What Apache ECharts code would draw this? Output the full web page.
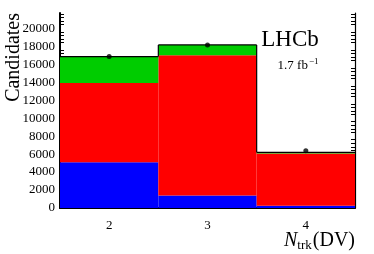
<!DOCTYPE html>
<html><head><meta charset="utf-8">
<script src="https://cdn.jsdelivr.net/npm/echarts@6/dist/echarts.min.js"></script>
<style>html,body{margin:0;padding:0;background:#fff}#c{width:374px;height:254px}</style>
</head><body><div id="c"></div>
<script>
var categories = ['2', '3', '4'];
var blueVals = [5100, 1400, 250];
var redVals = [8800, 15600, 5820];
var greenVals = [2950, 1150, 130];
var dataVals = [16850, 18150, 6370];
var yTicks = [0, 2000, 4000, 6000, 8000, 10000, 12000, 14000, 16000, 18000, 20000];

var totals = categories.map(function (c, i) { return blueVals[i] + redVals[i] + greenVals[i]; });
var outline = categories.map(function (c, i) { return [i, totals[i], i > 0 ? totals[i - 1] : null]; });

var F = 'Liberation Serif, Times New Roman, serif';
var chart = echarts.init(document.getElementById('c'));
var yMax = 21700;
chart.setOption({
  animation: false,
  grid: { left: 60, right: 19, top: 13, bottom: 46 },
  xAxis: [{
    type: 'category', data: categories, position: 'bottom',
    axisLine: { lineStyle: { color: '#000', width: 2 } },
    axisTick: { inside: true, length: 7, lineStyle: { color: '#000', width: 1.5 } },
    axisLabel: { color: '#000', fontFamily: F, fontSize: 13, margin: 11 },
    splitLine: { show: false }
  }, {
    type: 'category', data: categories, position: 'top',
    axisLine: { lineStyle: { color: '#000', width: 1.2 } },
    axisTick: { inside: true, length: 7, lineStyle: { color: '#000', width: 1.2 } },
    axisLabel: { show: false }, splitLine: { show: false }
  }],
  yAxis: [{
    type: 'value', min: 0, max: yMax, interval: 2000, position: 'left',
    axisLine: { show: true, lineStyle: { color: '#000', width: 2 } },
    axisTick: { inside: true, length: 8, lineStyle: { color: '#000', width: 1.2 } },
    minorTick: { show: true, splitNumber: 5, length: 4, lineStyle: { color: '#000', width: 1 } },
    axisLabel: { color: '#000', fontFamily: F, fontSize: 13, margin: 5, showMaxLabel: false,
      formatter: function (v) { return yTicks.indexOf(v) >= 0 ? String(v) : ''; } },
    splitLine: { show: false }
  }, {
    type: 'value', min: 0, max: yMax, interval: 2000, position: 'right',
    axisLine: { show: true, lineStyle: { color: '#000', width: 1.2 } },
    axisTick: { inside: true, length: 8, lineStyle: { color: '#000', width: 1.2 } },
    minorTick: { show: true, splitNumber: 5, length: 4, lineStyle: { color: '#000', width: 1 } },
    axisLabel: { show: false }, splitLine: { show: false }
  }],
  series: [
    { type: 'bar', stack: 's', data: blueVals, barCategoryGap: '0%', itemStyle: { color: '#0000ff' }, z: 1 },
    { type: 'bar', stack: 's', data: redVals, barCategoryGap: '0%', itemStyle: { color: '#ff0000' }, z: 1 },
    { type: 'bar', stack: 's', data: greenVals, barCategoryGap: '0%', itemStyle: { color: '#00cc00' }, z: 1 },
    { type: 'custom', data: outline, z: 3,
      renderItem: function (params, api) {
        var c = api.coord([api.value(0), api.value(1)]);
        var w = api.size([1, 0])[0];
        var x0 = c[0] - w / 2, x1 = c[0] + w / 2;
        var children = [{ type: 'line', shape: { x1: x0, y1: c[1], x2: x1, y2: c[1] }, style: { stroke: '#000', lineWidth: 1.2 } }];
        var prev = api.value(2);
        if (prev !== null && !isNaN(prev)) {
          var p = api.coord([api.value(0), prev]);
          children.push({ type: 'line', shape: { x1: x0, y1: p[1], x2: x0, y2: c[1] }, style: { stroke: '#000', lineWidth: 1.2 } });
        }
        return { type: 'group', children: children };
      } },
    { type: 'scatter', data: dataVals, symbol: 'circle', symbolSize: 5, itemStyle: { color: '#000' }, z: 5 }
  ],
  graphic: [
    { type: 'text', x: 14, y: 13, rotation: Math.PI / 2, z: 10,
      style: { text: 'Candidates', font: '20px ' + F, fill: '#000', align: 'right', verticalAlign: 'middle' } },
    { type: 'text', x: 290, y: 40, z: 10,
      style: { text: 'LHCb', font: '23px ' + F, fill: '#000', align: 'center', verticalAlign: 'middle' } },
    { type: 'text', x: 298, y: 66, z: 10,
      style: { text: '{a|1.7 fb}{b|−1}', align: 'center', verticalAlign: 'middle',
        rich: { a: { fontFamily: F, fontSize: 13, fill: '#000' }, b: { fontFamily: F, fontSize: 9, fill: '#000', padding: [0, 0, 8, 1] } } } },
    { type: 'text', x: 355, y: 241, z: 10,
      style: { text: '{i|N}{s|trk}{n|(DV)}', align: 'right', verticalAlign: 'middle',
        rich: { i: { fontFamily: F, fontSize: 20, fontStyle: 'italic', fill: '#000' },
                s: { fontFamily: F, fontSize: 13, fill: '#000', padding: [9, 1, 0, 0] },
                n: { fontFamily: F, fontSize: 20, fill: '#000' } } } }
  ]
});
</script></body></html>
